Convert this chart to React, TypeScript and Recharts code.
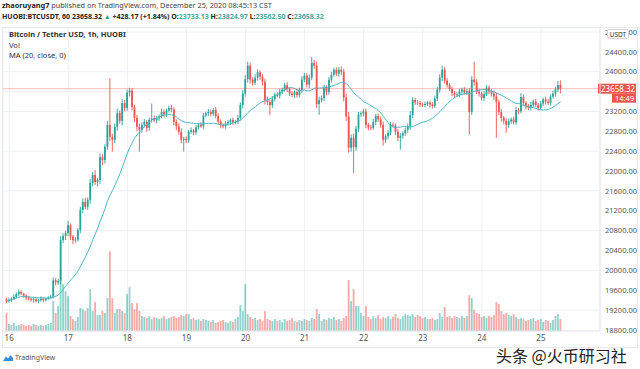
import React from 'react'
import { ComposedChart, Bar, Line, XAxis, YAxis, CartesianGrid, ReferenceLine } from 'recharts'

// HUOBI BTC/USDT 1h, hourly closes from Dec 15 23:00 to Dec 25 08:00 (one row per day)
const closes = [
  19380,
  19405, 19430, 19470, 19520, 19570, 19530, 19490, 19450, 19430, 19410, 19420, 19380, 19400, 19430, 19400, 19430, 19450, 19470, 19800, 19760, 19790, 20610, 20690, 20750,
  20910, 20680, 20610, 20620, 20810, 21220, 21380, 21280, 21420, 21760, 21920, 21780, 21820, 22280, 22220, 22490, 22930, 22690, 22630, 22890, 23170, 23010, 23370, 23270,
  23580, 23620, 23290, 23070, 22890, 22830, 22930, 22990, 22870, 23030, 23060, 23020, 23060, 23100, 23190, 23140, 23220, 23270, 23240, 22990, 22900, 22790, 22630, 22650,
  22620, 22790, 22820, 22780, 22880, 22930, 22900, 23120, 23160, 23190, 23150, 23230, 23110, 23000, 22930, 22900, 22960, 22990, 23030, 22980, 22990, 23070, 23330, 23560,
  23850, 24120, 23840, 23780, 23880, 23990, 23900, 23800, 23430, 23390, 23330, 23450, 23540, 23520, 23600, 23640, 23730, 23650, 23560, 23530, 23590, 23530, 23630, 23840,
  23920, 23740, 23880, 24180, 24120, 23350, 23430, 23470, 23680, 23590, 23840, 23940, 24040, 23960, 24040, 24000, 23480, 23100, 22470, 22670, 22480, 22850, 23140, 23160,
  23200, 22930, 22880, 22870, 22990, 23110, 23040, 22930, 22630, 22700, 22770, 22930, 22920, 22790, 22670, 22710, 22760, 22830, 22900, 23130, 23430, 23380, 23370, 23340,
  23330, 23350, 23380, 23340, 23310, 23460, 23640, 23880, 24040, 23820, 23730, 23650, 23570, 23530, 23540, 23600, 23640, 23580, 23610, 23190, 23840, 23790, 23600, 23560,
  23470, 23550, 23680, 23600, 23560, 23500, 23390, 23190, 23070, 23010, 22930, 23000, 23040, 22980, 23230, 23200, 23490, 23370, 23300, 23270, 23330, 23400, 23330, 23270,
  23360, 23440, 23400, 23370, 23500, 23560, 23640, 23733.13, 23658.32,
]

// upper wick above the body
const highWicks = [
  30,
  40, 30, 50, 40, 50, 30, 20, 30, 40, 20, 30, 40, 30, 50, 30, 20, 30, 40, 60, 50, 40, 80, 60, 50,
  90, 40, 30, 50, 40, 60, 70, 80, 50, 80, 60, 100, 40, 70, 60, 50, 80, 940, 60, 70, 90, 50, 80, 60,
  60, 60, 50, 40, 60, 70, 50, 60, 40, 50, 300, 60, 50, 40, 70, 50, 40, 50, 60, 40, 50, 60, 70, 40,
  50, 40, 60, 30, 50, 40, 60, 50, 40, 60, 50, 40, 60, 50, 40, 30, 50, 40, 30, 50, 40, 60, 50, 70,
  80, 80, 60, 50, 70, 60, 40, 50, 60, 70, 50, 60, 40, 50, 60, 40, 50, 60, 40, 50, 30, 60, 50, 70,
  60, 50, 60, 120, 60, 80, 70, 50, 60, 40, 50, 60, 40, 50, 60, 70, 60, 80, 90, 70, 80, 60, 50, 40,
  50, 60, 40, 50, 60, 40, 50, 60, 70, 40, 50, 60, 50, 40, 60, 50, 40, 50, 60, 80, 60, 40, 50, 40,
  40, 50, 30, 40, 50, 60, 50, 70, 80, 60, 50, 40, 50, 40, 50, 60, 40, 50, 40, 60, 70, 360, 60, 50,
  40, 60, 50, 40, 50, 60, 70, 50, 60, 40, 50, 60, 40, 50, 60, 40, 80, 50, 40, 50, 60, 40, 50, 40,
  50, 40, 60, 50, 40, 60, 60, 80, 91.84,
]

// lower wick below the body
const lowWicks = [
  40,
  30, 40, 20, 30, 40, 30, 40, 50, 30, 40, 60, 30, 40, 30, 40, 30, 20, 30, 40, 60, 50, 70, 60, 80,
  60, 70, 80, 50, 40, 60, 70, 50, 60, 80, 70, 60, 90, 80, 100, 70, 60, 90, 240, 70, 80, 60, 90, 70,
  60, 80, 70, 80, 90, 440, 60, 50, 80, 60, 50, 40, 60, 50, 40, 60, 50, 40, 60, 70, 80, 60, 70, 240,
  60, 50, 40, 60, 50, 40, 30, 50, 40, 60, 50, 40, 50, 60, 70, 40, 50, 40, 60, 50, 40, 50, 60, 70,
  60, 70, 80, 60, 50, 60, 70, 80, 90, 60, 200, 60, 50, 40, 60, 50, 40, 60, 50, 40, 60, 50, 40, 60,
  50, 60, 70, 50, 60, 80, 220, 50, 60, 70, 50, 60, 40, 50, 60, 70, 80, 90, 100, 80, 520, 70, 60, 50,
  60, 70, 60, 50, 40, 60, 50, 60, 120, 70, 60, 50, 40, 60, 70, 240, 60, 50, 60, 70, 60, 50, 40, 50,
  40, 50, 40, 60, 50, 40, 50, 60, 70, 60, 50, 40, 60, 50, 40, 50, 60, 40, 50, 460, 60, 70, 50, 60,
  50, 60, 40, 50, 60, 70, 720, 60, 80, 70, 160, 60, 50, 40, 50, 60, 40, 50, 60, 40, 50, 60, 40, 50,
  40, 50, 60, 40, 50, 40, 60, 50, 95.82,
]

const volumes = [
  18,
  7, 6, 8, 5, 6, 7, 6, 5, 6, 5, 7, 6, 5, 6, 5, 6, 7, 8, 30, 18, 25, 62, 47, 40,
  35, 15, 12, 10, 14, 23, 22, 20, 23, 42, 20, 29, 16, 16, 20, 18, 33, 80, 33, 18, 22, 22, 20, 18,
  37, 44, 28, 22, 28, 20, 15, 14, 13, 15, 12, 14, 13, 12, 13, 15, 12, 13, 14, 15, 13, 14, 16, 15,
  17, 17, 12, 13, 11, 12, 10, 12, 11, 10, 9, 11, 8, 9, 10, 11, 9, 8, 10, 9, 12, 14, 26, 20,
  47, 17, 14, 12, 13, 11, 12, 10, 20, 12, 11, 10, 12, 10, 11, 9, 12, 10, 11, 13, 10, 9, 11, 10,
  12, 11, 10, 13, 12, 22, 17, 10, 12, 11, 13, 12, 14, 11, 12, 10, 13, 15, 51, 30, 42, 25, 25, 18,
  15, 25, 14, 12, 15, 13, 16, 12, 14, 13, 15, 12, 14, 17, 13, 12, 15, 17, 16, 15, 17, 14, 16, 15,
  13, 14, 12, 12, 13, 11, 12, 18, 14, 24, 14, 15, 13, 15, 14, 13, 15, 13, 15, 36, 33, 21, 18, 17,
  14, 15, 13, 15, 14, 16, 29, 27, 20, 17, 18, 16, 15, 17, 14, 12, 13, 12, 10, 11, 12, 13, 10, 11,
  12, 9, 11, 10, 8, 11, 15, 17, 12,
]

const firstOpen = 19420
const lastPrice = 23658.32
const dayLabels = ['16', '17', '18', '19', '20', '21', '22', '23', '24', '25']
const priceTicks = [18800, 19200, 19600, 20000, 20400, 20800, 21200, 21600, 22000, 22400, 22800, 23200, 23600, 24000, 24400, 24800]
// this tick sits under the last-price tag, its label is not shown
const coveredTick = 23600

const UP = '#26a69a'
const DOWN = '#ef5350'
const MA_COLOR = '#4cb8c8'

const data = closes.map((c, k) => {
  const o = k === 0 ? firstOpen : closes[k - 1]
  const win = closes.slice(Math.max(0, k - 19), k + 1)
  return {
    t: k - 1,
    o,
    c,
    h: Math.max(o, c) + highWicks[k],
    l: Math.min(o, c) - lowWicks[k],
    v: volumes[k],
    ma: win.reduce((s, x) => s + x, 0) / win.length,
  }
})

const dayTicks = dayLabels.map((_, i) => i * 24)
const maxVol = Math.max(...volumes)

function Candle(props: any) {
  const { x, y, width, height, payload } = props
  if (!payload || height == null) return null
  const { o, h, l, c } = payload
  const color = c >= o ? UP : DOWN
  const cx = x + width / 2
  const top = Math.min(y, y + height)
  const k = Math.abs(height) / (h - l)
  const bodyTop = top + (h - Math.max(o, c)) * k
  const bodyH = Math.max(0.8, Math.abs(o - c) * k)
  return (
    <g>
      <line x1={cx} x2={cx} y1={top} y2={top + Math.abs(height)} stroke={color} strokeWidth={0.9} />
      <rect x={cx - 0.9} y={bodyTop} width={1.8} height={bodyH} fill={color} />
    </g>
  )
}

function VolBar(props: any) {
  const { x, y, width, height, payload } = props
  if (!payload) return null
  const color = payload.c >= payload.o ? UP : DOWN
  return <rect x={x + width / 2 - 0.9} y={y} width={1.8} height={Math.max(0, height)} fill={color} fillOpacity={0.5} />
}

function PriceTag(props: any) {
  const { viewBox } = props
  if (!viewBox) return null
  const right = viewBox.x + viewBox.width
  const y = viewBox.y
  return (
    <g>
      <rect x={right - 2} y={y - 5} width={38} height={10} fill={DOWN} />
      <text x={right + 1} y={y + 3} fill="#fff" fontSize={8} fontFamily="Noto Sans">{lastPrice.toFixed(2)}</text>
      <rect x={right + 12} y={y + 5} width={24} height={9} fill={DOWN} />
      <text x={right + 15} y={y + 12} fill="#fff" fontSize={7.5} fontFamily="Noto Sans">14:49</text>
    </g>
  )
}

const teal = { color: '#3fae9f' }

export default function App() {
  return (
    <div style={{ position: 'absolute', left: 0, top: 0, width: 640, height: 369, background: '#fff', overflow: 'hidden', fontFamily: '"Noto Sans", sans-serif', color: '#222' }}>
      <div style={{ position: 'absolute', left: 2, top: 0, fontSize: 7.3, lineHeight: '11px', whiteSpace: 'nowrap', color: '#444' }}>
        <b style={{ color: '#222' }}>zhaoruyang7</b> published on TradingView.com, December 25, 2020 08:45:13 CST
      </div>
      <div style={{ position: 'absolute', left: 2, top: 11, fontSize: 7, lineHeight: '11px', whiteSpace: 'nowrap', fontWeight: 700, color: '#222' }}>
        HUOBI:BTCUSDT, 60 23658.32 <span style={{ color: UP }}>▲</span> +428.17 (+1.84%) O:<span style={teal}>23733.13</span> H:<span style={teal}>23824.97</span> L:<span style={teal}>23562.50</span> C:<span style={teal}>23658.32</span>
      </div>
      <div style={{ position: 'absolute', left: 2, top: 27, width: 636, height: 321, border: '1px solid #e6e8ec', boxSizing: 'border-box' }} />
      <div style={{ position: 'absolute', left: 0, top: 0 }}>
        <ComposedChart width={640} height={348} data={data} margin={{ top: 28, right: 0, bottom: 0, left: 3 }}>
          <CartesianGrid xAxisId="x" yAxisId="price" stroke="#eef0f4" />
          <XAxis
            xAxisId="x"
            dataKey="t"
            type="number"
            domain={[-2.5, 240]}
            ticks={dayTicks}
            tickFormatter={(v) => dayLabels[Math.round(v / 24)]}
            height={17}
            tickLine={false}
            tickSize={0}
            tickMargin={4}
            axisLine={{ stroke: '#e6e8ec' }}
            tick={{ fontSize: 8, fill: '#555', fontFamily: 'Noto Sans' }}
            allowDataOverflow
          />
          <XAxis xAxisId="xv" dataKey="t" type="number" domain={[-2.5, 240]} hide allowDataOverflow />
          <YAxis
            yAxisId="price"
            orientation="right"
            width={40}
            domain={[18780, 24880]}
            ticks={priceTicks}
            tickFormatter={(v) => (v === coveredTick ? '' : Number(v).toFixed(2))}
            tickLine={false}
            tickSize={3}
            tickMargin={2}
            axisLine={{ stroke: '#e6e8ec' }}
            tick={{ fontSize: 7.5, fill: '#555', fontFamily: 'Noto Sans' }}
            allowDataOverflow
          />
          <YAxis yAxisId="vol" hide domain={[0, maxVol * 3.8]} />
          <Bar xAxisId="xv" yAxisId="vol" dataKey="v" barSize={2} shape={(p: any) => <VolBar {...p} />} isAnimationActive={false} />
          <Bar xAxisId="x" yAxisId="price" dataKey={(d: any) => [d.l, d.h]} barSize={2} shape={(p: any) => <Candle {...p} />} isAnimationActive={false} />
          <Line xAxisId="x" yAxisId="price" dataKey="ma" stroke={MA_COLOR} strokeWidth={1} dot={false} isAnimationActive={false} />
          <ReferenceLine xAxisId="x" yAxisId="price" y={lastPrice} stroke={DOWN} strokeOpacity={0.5} strokeWidth={0.8} label={(p: any) => <PriceTag {...p} />} />
        </ComposedChart>
      </div>
      <div style={{ position: 'absolute', left: 9, top: 29, fontSize: 7.5, lineHeight: '10.5px', color: '#333' }}>
        <div style={{ fontWeight: 700 }}>Bitcoin / Tether USD, 1h, HUOBI</div>
        <div>Vol</div>
        <div>MA (20, close, 0)</div>
      </div>
      <div style={{ position: 'absolute', left: 607, top: 29, width: 22, height: 10, border: '1px solid #cfd3da', borderRadius: 2, background: '#fff', fontSize: 6.5, lineHeight: '10px', textAlign: 'center', color: '#333', boxSizing: 'border-box' }}>
        USDT
      </div>
      <div style={{ position: 'absolute', left: 3, top: 353, display: 'flex', alignItems: 'center', gap: 2, fontSize: 7, color: '#555' }}>
        <svg width={10} height={8} viewBox="0 0 10 8">
          <path d="M0 7 L3 2.5 L5 4.5 L7.5 1 L10 4 L10 7 Z" fill="#3a8fd9" />
        </svg>
        <span>TradingView</span>
      </div>
      <div style={{ position: 'absolute', left: 496, top: 347, fontSize: 16, lineHeight: '16px', color: '#222', fontFamily: '"Noto Sans CJK SC", sans-serif', whiteSpace: 'nowrap' }}>
        头条 @火币研习社
      </div>
    </div>
  )
}
